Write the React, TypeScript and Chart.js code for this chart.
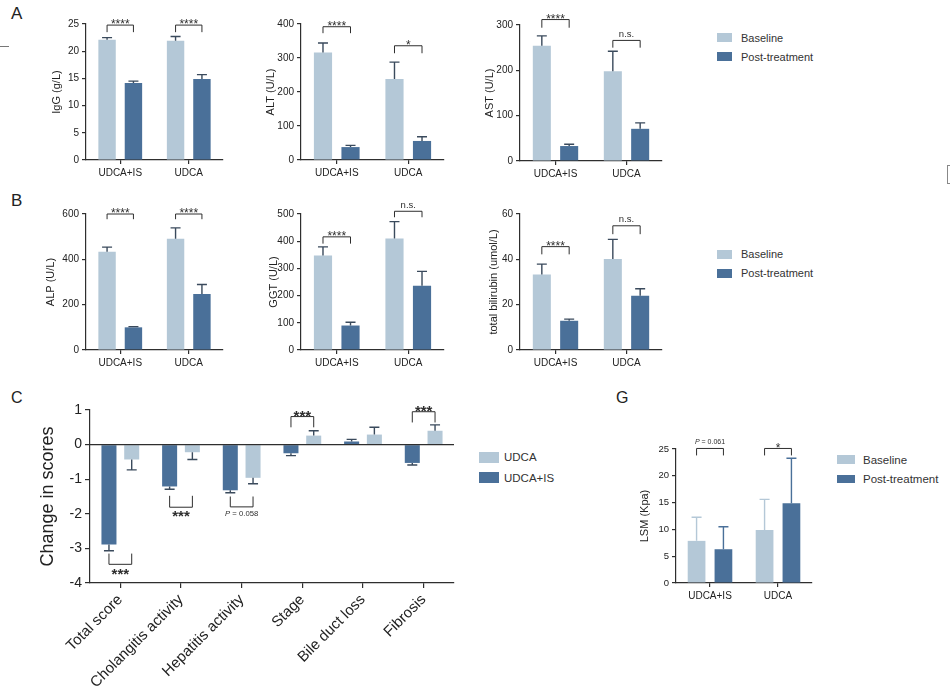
import React, { useEffect, useRef } from "react";
import { Chart, registerables } from "chart.js";

Chart.register(...registerables);

const FONT = "'Liberation Sans', Arial, Helvetica, sans-serif";
const LIGHT = "#b4c8d7";
const DARK = "#4a7099";
const INK = "#2e2e2e";
const ERR = "#3a4a5c";

// ---------------- data ----------------
const groups = ["UDCA+IS", "UDCA"];
const seriesNames = ["Baseline", "Post-treatment"];

const iggBaseline = [22.1, 21.9];
const iggBaselineSem = [0.4, 0.8];
const iggPost = [14.15, 14.9];
const iggPostSem = [0.35, 0.8];
const iggBrackets = [
  { cat: 0, line: 24.8, leg: 23.5, label: "****" },
  { cat: 1, line: 24.8, leg: 23.5, label: "****" },
];

const altBaseline = [316, 238];
const altBaselineSem = [28, 50];
const altPost = [38, 56];
const altPostSem = [5, 12.5];
const altBrackets = [
  { cat: 0, line: 392, leg: 373, label: "****" },
  { cat: 1, line: 336, leg: 314, label: "*" },
];

const astBaseline = [254, 198];
const astBaselineSem = [22, 44];
const astPost = [33, 71];
const astPostSem = [4, 13];
const astBrackets = [
  { cat: 0, line: 312, leg: 294, label: "****" },
  { cat: 1, line: 266, leg: 250, label: "n.s." },
];

const alpBaseline = [434, 491];
const alpBaselineSem = [20, 48];
const alpPost = [100, 247];
const alpPostSem = [3, 42];
const alpBrackets = [
  { cat: 0, line: 600, leg: 577, label: "****" },
  { cat: 1, line: 600, leg: 577, label: "****" },
];

const ggtBaseline = [347, 410];
const ggtBaselineSem = [32, 62];
const ggtPost = [90, 236];
const ggtPostSem = [12, 53];
const ggtBrackets = [
  { cat: 0, line: 416, leg: 391, label: "****" },
  { cat: 1, line: 510, leg: 488, label: "n.s." },
];

const tbilBaseline = [33.3, 40.1];
const tbilBaselineSem = [4.6, 8.7];
const tbilPost = [12.9, 23.9];
const tbilPostSem = [0.7, 3.1];
const tbilBrackets = [
  { cat: 0, line: 45.6, leg: 42.2, label: "****" },
  { cat: 1, line: 54.8, leg: 51.1, label: "n.s." },
];

const scoreCategories = ["Total score", "Cholangitis activity", "Hepatitis activity", "Stage", "Bile duct loss", "Fibrosis"];
const scoreSeries = ["UDCA+IS", "UDCA"];
const scoreLegend = ["UDCA", "UDCA+IS"];
const scoreUdcaIs = [-2.89, -1.21, -1.32, -0.25, 0.09, -0.53];
const scoreUdcaIsSem = [0.18, 0.08, 0.07, 0.07, 0.06, 0.06];
const scoreUdca = [-0.43, -0.22, -0.96, 0.26, 0.29, 0.4];
const scoreUdcaSem = [0.3, 0.21, 0.17, 0.14, 0.21, 0.17];
const scoreBrackets = [
  { cat: 0, line: -3.46, leg: -3.15, label: "***", below: true },
  { cat: 1, line: -1.81, leg: -1.48, label: "***", below: true },
  { cat: 2, line: -1.8, leg: -1.5, label: "P = 0.058", below: true },
  { cat: 3, line: 0.81, leg: 0.5, label: "***" },
  { cat: 5, line: 0.95, leg: 0.64, label: "***" },
];

const lsmBaseline = [7.86, 9.9];
const lsmBaselineSd = [4.4, 5.7];
const lsmPost = [6.3, 14.87];
const lsmPostSd = [4.2, 8.4];
const lsmBrackets = [
  { cat: 0, line: 25.1, leg: 23.8, label: "P = 0.061" },
  { cat: 1, line: 25.1, leg: 23.8, label: "*" },
];

// ---------------- chart builders ----------------
type Bracket = { cat: number; line: number; leg: number; label: string; below?: boolean };
type Area = { l: number; t: number; r: number; b: number };
type PanelOpts = {
  area: Area; yw: number; padTop: number; xh: number; padRight: number;
  labels: string[]; names: string[]; colors: string[];
  values: number[][]; errors: number[][]; errColors: string[]; errWidth: number; cap: number;
  brackets: Bracket[];
  yMin: number; yMax: number; yStep: number;
  yTitle: string; titleX: number; titleSize: number;
  tickSize: number; xTickSize: number; tickLen: number;
  catPct: number; barPct: number; rotation: number; zeroLine: boolean;
  starSize: number; starBold: boolean; textSize: number; pSize: number;
};

function geom(p: PanelOpts) {
  return {
    x: p.area.l - p.yw,
    y: p.area.t - p.padTop,
    w: Math.round(p.yw + (p.area.r - p.area.l) + p.padRight),
    h: Math.round(p.padTop + (p.area.b - p.area.t) + p.xh),
  };
}

function annotPlugin(p: PanelOpts) {
  return {
    id: "annot",
    afterDatasetsDraw(chart: any) {
      const ctx = chart.ctx;
      const ys = chart.scales.y;
      const ca = chart.chartArea;
      ctx.save();
      if (p.zeroLine) {
        const py = ys.getPixelForValue(0);
        ctx.strokeStyle = INK;
        ctx.lineWidth = 1.2;
        ctx.beginPath();
        ctx.moveTo(ca.left, py);
        ctx.lineTo(ca.right, py);
        ctx.stroke();
      }
      p.errors.forEach((errs, di) => {
        const meta = chart.getDatasetMeta(di);
        meta.data.forEach((bar: any, i: number) => {
          const v = p.values[di][i];
          const e = errs[i];
          const end = v >= 0 ? v + e : v - e;
          const x = bar.x;
          const y0 = ys.getPixelForValue(v);
          const y1 = ys.getPixelForValue(end);
          ctx.strokeStyle = p.errColors[di];
          ctx.lineWidth = p.errWidth;
          ctx.beginPath();
          ctx.moveTo(x, y0);
          ctx.lineTo(x, y1);
          ctx.moveTo(x - p.cap / 2, y1);
          ctx.lineTo(x + p.cap / 2, y1);
          ctx.stroke();
        });
      });
      p.brackets.forEach((b) => {
        const x0 = chart.getDatasetMeta(0).data[b.cat].x;
        const x1 = chart.getDatasetMeta(1).data[b.cat].x;
        const yl = ys.getPixelForValue(b.line);
        const yg = ys.getPixelForValue(b.leg);
        ctx.strokeStyle = INK;
        ctx.lineWidth = 1;
        ctx.beginPath();
        ctx.moveTo(x0, yg);
        ctx.lineTo(x0, yl);
        ctx.lineTo(x1, yl);
        ctx.lineTo(x1, yg);
        ctx.stroke();
        const cx = (x0 + x1) / 2;
        ctx.fillStyle = INK;
        ctx.textBaseline = "alphabetic";
        if (/^\*+$/.test(b.label)) {
          const fs = p.starSize;
          ctx.font = `${p.starBold ? "bold " : ""}${fs}px ${FONT}`;
          ctx.textAlign = "center";
          const base = b.below ? yl + 3.5 + 0.716 * fs : yl - 1.8 + 0.43 * fs;
          ctx.fillText(b.label, cx, base);
        } else if (b.label.startsWith("P")) {
          const fs = p.pSize;
          const rest = b.label.slice(1);
          ctx.font = `italic ${fs}px ${FONT}`;
          const wP = ctx.measureText("P").width;
          ctx.font = `${fs}px ${FONT}`;
          const wR = ctx.measureText(rest).width;
          const start = cx - (wP + wR) / 2;
          const base = b.below ? yl + 3.5 + 0.716 * fs : yl - 4;
          ctx.textAlign = "left";
          ctx.font = `italic ${fs}px ${FONT}`;
          ctx.fillText("P", start, base);
          ctx.font = `${fs}px ${FONT}`;
          ctx.fillText(rest, start + wP, base);
        } else {
          const fs = p.textSize;
          ctx.font = `${fs}px ${FONT}`;
          ctx.textAlign = "center";
          const base = b.below ? yl + 3.5 + 0.716 * fs : yl - 3.5;
          ctx.fillText(b.label, cx, base);
        }
      });
      ctx.restore();
    },
  };
}

function buildConfig(p: PanelOpts): any {
  const lh = p.titleSize * 1.2;
  const cx = p.area.l - p.yw;
  const titlePad = Math.max(0, p.titleX - cx - lh / 2);
  return {
    type: "bar",
    data: {
      labels: p.labels,
      datasets: p.values.map((d, i) => ({
        label: p.names[i],
        data: d,
        backgroundColor: p.colors[i],
        borderWidth: 0,
        categoryPercentage: p.catPct,
        barPercentage: p.barPct,
      })),
    },
    options: {
      responsive: false,
      animation: false,
      devicePixelRatio: 1,
      layout: { padding: { top: p.padTop, right: p.padRight, left: 0, bottom: 0 } },
      plugins: { legend: { display: false }, tooltip: { enabled: false } },
      scales: {
        x: {
          type: "category",
          offset: true,
          grid: {
            display: true,
            drawOnChartArea: false,
            drawTicks: true,
            tickLength: p.tickLen,
            color: INK,
            lineWidth: 1.2,
            offset: false,
          },
          border: { display: true, color: INK, width: 1.2 },
          ticks: {
            color: "#222",
            font: { family: FONT, size: p.xTickSize },
            padding: 3,
            autoSkip: false,
            maxRotation: p.rotation,
            minRotation: p.rotation,
          },
          afterFit: (s: any) => {
            s.height = p.xh;
          },
        },
        y: {
          min: p.yMin,
          max: p.yMax,
          grid: {
            display: true,
            drawOnChartArea: false,
            drawTicks: true,
            tickLength: p.tickLen,
            color: INK,
            lineWidth: 1.2,
          },
          border: { display: true, color: INK, width: 1.2 },
          ticks: {
            stepSize: p.yStep,
            color: "#222",
            font: { family: FONT, size: p.tickSize },
            padding: 3,
          },
          title: {
            display: true,
            text: p.yTitle,
            color: "#222",
            font: { family: FONT, size: p.titleSize },
            padding: { top: titlePad, bottom: 0 },
          },
          afterFit: (s: any) => {
            s.width = p.yw;
          },
        },
      },
    },
    plugins: [annotPlugin(p)],
  };
}

function smallPanel(
  area: Area, titleX: number, yTitle: string, yMax: number, yStep: number,
  base: number[], baseErr: number[], post: number[], postErr: number[], brackets: Bracket[]
): PanelOpts {
  return {
    area, yw: 46, padTop: 22, xh: 30, padRight: 12,
    labels: groups, names: seriesNames, colors: [LIGHT, DARK],
    values: [base, post], errors: [baseErr, postErr], errColors: [ERR, ERR], errWidth: 1.4, cap: 10,
    brackets,
    yMin: 0, yMax, yStep,
    yTitle, titleX, titleSize: 11,
    tickSize: 10, xTickSize: 10, tickLen: 4,
    catPct: 0.77, barPct: 0.66, rotation: 0, zeroLine: false,
    starSize: 12, starBold: false, textSize: 9.5, pSize: 7.5,
  };
}

const panels: PanelOpts[] = [
  smallPanel({ l: 86, t: 24, r: 223, b: 160 }, 56.7, "IgG (g/L)", 25, 5, iggBaseline, iggBaselineSem, iggPost, iggPostSem, iggBrackets),
  smallPanel({ l: 301, t: 24, r: 444, b: 160 }, 271.3, "ALT (U/L)", 400, 100, altBaseline, altBaselineSem, altPost, altPostSem, altBrackets),
  smallPanel({ l: 520, t: 24.5, r: 662, b: 160.3 }, 489.7, "AST (U/L)", 300, 100, astBaseline, astBaselineSem, astPost, astPostSem, astBrackets),
  smallPanel({ l: 86, t: 214.3, r: 223, b: 350 }, 51, "ALP (U/L)", 600, 200, alpBaseline, alpBaselineSem, alpPost, alpPostSem, alpBrackets),
  smallPanel({ l: 301, t: 214.3, r: 444, b: 350 }, 273.7, "GGT (U/L)", 500, 100, ggtBaseline, ggtBaselineSem, ggtPost, ggtPostSem, ggtBrackets),
  smallPanel({ l: 520, t: 214.3, r: 662, b: 350 }, 494, "total bilirubin (umol/L)", 60, 20, tbilBaseline, tbilBaselineSem, tbilPost, tbilPostSem, tbilBrackets),
  {
    area: { l: 90, t: 410, r: 454, b: 583.3 }, yw: 55, padTop: 20, xh: 114, padRight: 10,
    labels: scoreCategories, names: scoreSeries, colors: [DARK, LIGHT],
    values: [scoreUdcaIs, scoreUdca], errors: [scoreUdcaIsSem, scoreUdcaSem], errColors: [ERR, ERR], errWidth: 1.4, cap: 10,
    brackets: scoreBrackets,
    yMin: -4, yMax: 1, yStep: 1,
    yTitle: "Change in scores", titleX: 48, titleSize: 18,
    tickSize: 14, xTickSize: 15, tickLen: 5,
    catPct: 0.75, barPct: 0.66, rotation: 45, zeroLine: true,
    starSize: 15, starBold: true, textSize: 9.5, pSize: 7.7,
  },
  {
    area: { l: 676, t: 449, r: 812, b: 583.3 }, yw: 40, padTop: 22, xh: 30, padRight: 10,
    labels: groups, names: seriesNames, colors: [LIGHT, DARK],
    values: [lsmBaseline, lsmPost], errors: [lsmBaselineSd, lsmPostSd], errColors: [LIGHT, DARK], errWidth: 1.4, cap: 10,
    brackets: lsmBrackets,
    yMin: 0, yMax: 25, yStep: 5,
    yTitle: "LSM (Kpa)", titleX: 645, titleSize: 11,
    tickSize: 9.5, xTickSize: 10, tickLen: 4,
    catPct: 0.79, barPct: 0.66, rotation: 0, zeroLine: false,
    starSize: 12, starBold: false, textSize: 9.5, pSize: 7,
  },
];

// ---------------- components ----------------
function ChartBox({ p }: { p: PanelOpts }) {
  const ref = useRef<HTMLCanvasElement>(null);
  const g = geom(p);
  useEffect(() => {
    const chart = new Chart(ref.current as HTMLCanvasElement, buildConfig(p));
    return () => chart.destroy();
  }, []);
  return (
    <canvas
      ref={ref}
      width={g.w}
      height={g.h}
      style={{ position: "absolute", left: g.x, top: g.y, width: g.w, height: g.h }}
    />
  );
}

type LegItem = { bx: number; by: number; bw: number; bh: number; color: string; text: string; tx: number; ty: number; size: number };

function LegendItem({ it }: { it: LegItem }) {
  return (
    <>
      <div style={{ position: "absolute", left: it.bx, top: it.by, width: it.bw, height: it.bh, background: it.color }} />
      <div
        style={{
          position: "absolute", left: it.tx, top: it.ty - 7, lineHeight: "14px", height: 14,
          fontSize: it.size, color: "#333", whiteSpace: "nowrap", fontFamily: FONT,
        }}
      >
        {it.text}
      </div>
    </>
  );
}

const legends: LegItem[] = [
  { bx: 717, by: 33, bw: 15, bh: 9, color: LIGHT, text: seriesNames[0], tx: 741, ty: 37.7, size: 11 },
  { bx: 717, by: 52, bw: 15, bh: 9, color: DARK, text: seriesNames[1], tx: 741, ty: 57, size: 11 },
  { bx: 717, by: 250, bw: 15, bh: 8.5, color: LIGHT, text: seriesNames[0], tx: 741, ty: 254.3, size: 11 },
  { bx: 717, by: 269, bw: 15, bh: 8.5, color: DARK, text: seriesNames[1], tx: 741, ty: 273.3, size: 11 },
  { bx: 479, by: 451.7, bw: 20, bh: 11, color: LIGHT, text: scoreLegend[0], tx: 504, ty: 456.7, size: 11.5 },
  { bx: 479, by: 471.7, bw: 20, bh: 11, color: DARK, text: scoreLegend[1], tx: 504, ty: 478, size: 11.5 },
  { bx: 837, by: 455, bw: 18, bh: 8.5, color: LIGHT, text: seriesNames[0], tx: 863, ty: 459.5, size: 11.5 },
  { bx: 837, by: 474.5, bw: 18, bh: 8.5, color: DARK, text: seriesNames[1], tx: 863, ty: 479, size: 11.5 },
];

const letters = [
  { t: "A", x: 11, y: 5, s: 17 },
  { t: "B", x: 11, y: 192, s: 17 },
  { t: "C", x: 11, y: 390, s: 16 },
  { t: "G", x: 616, y: 390, s: 16 },
];

export default function App() {
  return (
    <div
      style={{
        position: "absolute", left: 0, top: 0, width: 950, height: 698,
        background: "#ffffff", overflow: "hidden", fontFamily: FONT,
      }}
    >
      {panels.map((p, i) => (
        <ChartBox key={i} p={p} />
      ))}
      {legends.map((it, i) => (
        <LegendItem key={i} it={it} />
      ))}
      {letters.map((l) => (
        <div
          key={l.t}
          style={{ position: "absolute", left: l.x, top: l.y, fontSize: l.s, lineHeight: 1, color: "#222", fontFamily: FONT }}
        >
          {l.t}
        </div>
      ))}
      <div style={{ position: "absolute", left: 0, top: 46, width: 9, height: 1, background: "#777" }} />
      <div
        style={{
          position: "absolute", left: 947, top: 165, width: 6, height: 17,
          borderLeft: "1px solid #888", borderTop: "1px solid #888", borderBottom: "1px solid #888",
        }}
      />
    </div>
  );
}
